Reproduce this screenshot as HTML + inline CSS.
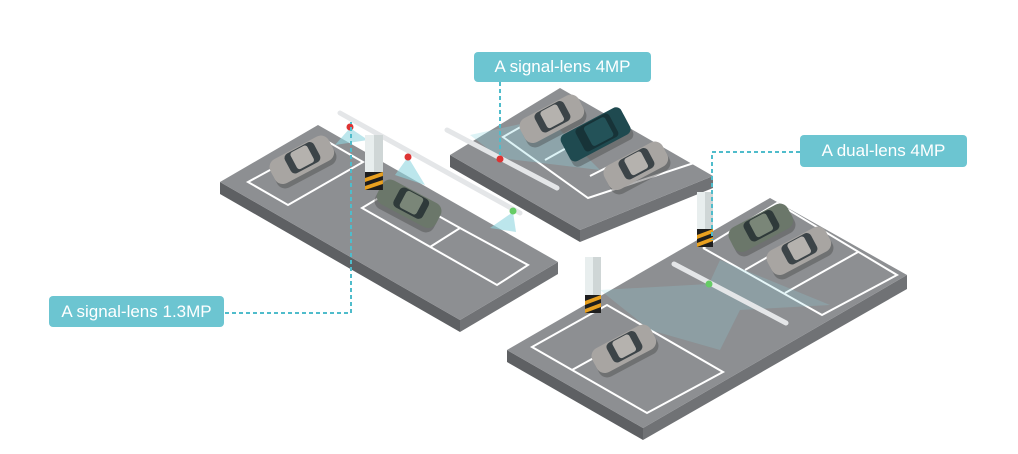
<!DOCTYPE html>
<html><head><meta charset="utf-8"><style>
html,body{margin:0;padding:0;background:#fff;}
svg{display:block}
.lbl{position:absolute;background:#6cc5d1;color:#fff;font-family:"Liberation Sans",sans-serif;font-size:17px;border-radius:4px;text-align:center;}
</style></head><body>
<div style="position:relative;width:1018px;height:454px;overflow:hidden">
<svg width="1018" height="454" viewBox="0 0 1018 454">
<defs>
<g id="carG">
 <rect x="-33" y="-10" width="66" height="26" rx="9" fill="#444" opacity="0.4"/>
 <rect x="-33" y="-16" width="66" height="27" rx="9" fill="#a8a5a2"/>
 <rect x="-15" y="-15" width="33" height="22" rx="5" fill="#3c4448"/>
 <rect x="-8" y="-14" width="19" height="19" rx="3" fill="#b5b2ae"/>
</g>
<g id="carGreen">
 <rect x="-33" y="-10" width="66" height="26" rx="9" fill="#444" opacity="0.4"/>
 <rect x="-33" y="-16" width="66" height="27" rx="9" fill="#6b776a"/>
 <rect x="-15" y="-15" width="33" height="22" rx="5" fill="#2f3a3a"/>
 <rect x="-8" y="-14" width="19" height="19" rx="3" fill="#7a8678"/>
</g>
<g id="haz">
 <rect x="0" y="0" width="16" height="18" fill="#1e1e1e"/>
 <polygon points="0,6 16,0 16,4 0,10" fill="#e8a020"/>
 <polygon points="0,14 16,8 16,12 0,18" fill="#e8a020"/>
</g>
</defs>
<!-- platform 1 -->
<polygon points="220,182 460,320 460,332 220,194" fill="#5e6063"/>
<polygon points="460,320 558,262 558,274 460,332" fill="#707275"/>
<polygon points="220,182 318,125 558,262 460,320" fill="#8d8f92"/>
<polygon points="248,182 325,140 363,162 288,205" fill="none" stroke="#fff" stroke-width="2"/>
<polyline points="392,190 362,208 497,285 528,265 460,228 430,247" fill="none" stroke="#fff" stroke-width="2"/>
<line x1="460" y1="228" x2="392" y2="190" stroke="#fff" stroke-width="2"/>
<!-- platform 2 -->
<polygon points="450,155 580,230 580,242 450,167" fill="#5e6063"/>
<polygon points="580,230 713,176 713,188 580,242" fill="#707275"/>
<polygon points="450,155 560,88 713,176 580,230" fill="#8d8f92"/>
<polygon points="503,137 580,93 697,162 588,198" fill="none" stroke="#fff" stroke-width="2"/>
<line x1="545" y1="160" x2="620" y2="118" stroke="#fff" stroke-width="2"/>
<line x1="590" y1="176" x2="665" y2="138" stroke="#fff" stroke-width="2"/>
<!-- platform 3 -->
<polygon points="507,350 643,428 643,440 507,362" fill="#5e6063"/>
<polygon points="643,428 907,275 907,289 643,440" fill="#707275"/>
<polygon points="507,350 770,198 907,275 643,428" fill="#8d8f92"/>
<polygon points="532,347 607,305 723,372 647,413" fill="none" stroke="#fff" stroke-width="2"/>
<line x1="572" y1="370" x2="648" y2="328" stroke="#fff" stroke-width="2"/>
<polyline points="703,248 777,203 897,275 822,315 703,248" fill="none" stroke="#fff" stroke-width="2"/>
<line x1="745" y1="270" x2="818" y2="228" stroke="#fff" stroke-width="2"/>
<line x1="785" y1="293" x2="858" y2="252" stroke="#fff" stroke-width="2"/>
<!-- light beams -->
<polygon points="350,128 335,145 368,140" fill="#8fd6e0" opacity="0.6"/>
<polygon points="408,157 395,175 425,185" fill="#8fd6e0" opacity="0.6"/>
<polygon points="513,212 490,228 516,232" fill="#8fd6e0" opacity="0.6"/>
<polygon points="500,158 470,135 548,118 600,170" fill="#8fd6e0" opacity="0.3"/>
<polygon points="709,284 600,290 650,330 720,350 740,310 830,305 720,260" fill="#8fd6e0" opacity="0.22"/>
<!-- cars -->
<g transform="translate(303,162) rotate(-28)"><use href="#carG"/></g>
<g transform="translate(408,206) rotate(28)"><use href="#carGreen"/></g>
<g transform="translate(553,121) rotate(-28)"><use href="#carG"/></g>
<g transform="translate(597,137) rotate(-28)"><rect x="-34" y="-12" width="68" height="30" rx="6" fill="#444" opacity="0.4"/><rect x="-34" y="-18" width="68" height="30" rx="6" fill="#1f4a50"/><rect x="-17" y="-17" width="38" height="26" rx="4" fill="#173338"/><rect x="-8" y="-15" width="24" height="22" rx="3" fill="#235258"/></g>
<g transform="translate(637,168) rotate(-28)"><use href="#carG"/></g>
<g transform="translate(762,230) rotate(-28)"><use href="#carGreen"/></g>
<g transform="translate(800,253) rotate(-28)"><use href="#carG"/></g>
<g transform="translate(625,351) rotate(-28)"><use href="#carG"/></g>
<!-- poles & bars -->
<line x1="340" y1="113" x2="520" y2="213" stroke="#e4e6e8" stroke-width="5" stroke-linecap="round"/>
<line x1="447" y1="130" x2="557" y2="188" stroke="#e4e6e8" stroke-width="5" stroke-linecap="round"/>
<line x1="674" y1="264" x2="786" y2="323" stroke="#e4e6e8" stroke-width="5" stroke-linecap="round"/>
<rect x="365" y="135" width="18" height="40" fill="#e8eeee"/><rect x="374" y="135" width="9" height="40" fill="#cfd6d6"/><g transform="translate(365,172) scale(1.12,1)"><use href="#haz"/></g>
<rect x="585" y="257" width="16" height="40" fill="#e8eeee"/><rect x="593" y="257" width="8" height="40" fill="#cfd6d6"/><g transform="translate(585,295)"><use href="#haz"/></g>
<rect x="697" y="192" width="16" height="40" fill="#e8eeee"/><rect x="705" y="192" width="8" height="40" fill="#cfd6d6"/><g transform="translate(697,229)"><use href="#haz"/></g>
<circle cx="350" cy="127" r="3.5" fill="#d33"/><circle cx="408" cy="157" r="3.5" fill="#d33"/><circle cx="500" cy="159" r="3.5" fill="#d33"/>
<circle cx="513" cy="211" r="3.5" fill="#6c6"/><circle cx="709" cy="284" r="3.5" fill="#6c6"/>
<!-- dashed connectors -->
<g stroke="#4fbccb" stroke-width="2" stroke-dasharray="4,3" fill="none">
<polyline points="225,313 351,313 351,122"/>
<polyline points="500,82 500,155"/>
<polyline points="800,152 712,152 712,240"/>
</g>
</svg>
<div class="lbl" style="left:474px;top:52px;width:177px;height:30px;line-height:30px">A signal-lens 4MP</div>
<div class="lbl" style="left:800px;top:135px;width:167px;height:32px;line-height:32px">A dual-lens 4MP</div>
<div class="lbl" style="left:49px;top:296px;width:175px;height:31px;line-height:31px">A signal-lens 1.3MP</div>
</div>
</body></html>
